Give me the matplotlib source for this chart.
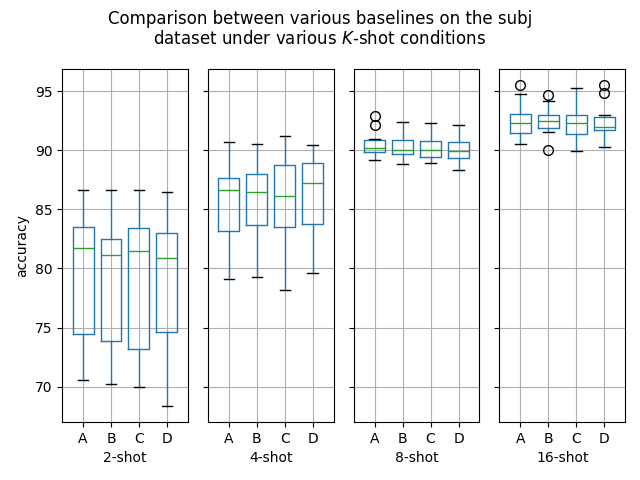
import numpy as np
import matplotlib.pyplot as plt

shots = ['2-shot', '4-shot', '8-shot', '16-shot']
methods = ['A', 'B', 'C', 'D']

# per shot, per method: [whislo, q1, med, q3, whishi]
stats_2 = [[70.55, 74.43, 81.7, 83.53, 86.6],
           [70.23, 73.84, 81.1, 82.46, 86.6],
           [69.95, 73.16, 81.48, 83.39, 86.6],
           [68.37, 74.6, 80.86, 83.0, 86.44]]
stats_4 = [[79.08, 83.17, 86.6, 87.62, 90.66],
           [79.28, 83.65, 86.44, 87.98, 90.49],
           [78.18, 83.48, 86.1, 88.72, 91.2],
           [79.6, 83.73, 87.22, 88.89, 90.41]]
stats_8 = [[89.14, 89.87, 90.16, 90.83, 90.92],
           [88.8, 89.7, 90.04, 90.83, 92.35],
           [88.91, 89.4, 89.99, 90.75, 92.27],
           [88.32, 89.31, 89.93, 90.66, 92.13]]
stats_16 = [[90.49, 91.45, 92.27, 93.06, 94.72],
            [91.53, 91.85, 92.44, 92.97, 94.18],
            [89.9, 91.34, 92.27, 92.97, 95.23],
            [90.24, 91.73, 91.98, 92.78, 92.97]]
fliers_8 = [[92.91, 92.13], [], [], []]
fliers_16 = [[95.5], [94.66, 90.0], [], [95.5, 94.8]]

all_stats = [stats_2, stats_4, stats_8, stats_16]
all_fliers = [[[], [], [], []], [[], [], [], []], fliers_8, fliers_16]

fig, axes = plt.subplots(1, 4, sharey=True, figsize=(6.4, 4.8))

for ax, shot, st, fl in zip(axes, shots, all_stats, all_fliers):
    bxp_stats = []
    for m, s, f in zip(methods, st, fl):
        bxp_stats.append(dict(label=m, whislo=s[0], q1=s[1], med=s[2],
                              q3=s[3], whishi=s[4], fliers=np.array(f)))
    ax.bxp(bxp_stats, showfliers=True, widths=0.75,
           boxprops=dict(color='#1f77b4'),
           whiskerprops=dict(color='#1f77b4'),
           medianprops=dict(color='#2ca02c'),
           capprops=dict(color='k'),
           flierprops=dict(marker='o', markeredgecolor='k', markersize=7))
    ax.set_xlim(0.25, 4.75)
    ax.grid(True)
    ax.set_xlabel(shot)

axes[0].set_ylabel('accuracy')
fig.suptitle('Comparison between various baselines on the subj\n'
             'dataset under various $K$-shot conditions')
plt.subplots_adjust(left=0.097, right=0.977, top=0.856, bottom=0.121, wspace=0.159)
plt.savefig('out.png', dpi=100)
